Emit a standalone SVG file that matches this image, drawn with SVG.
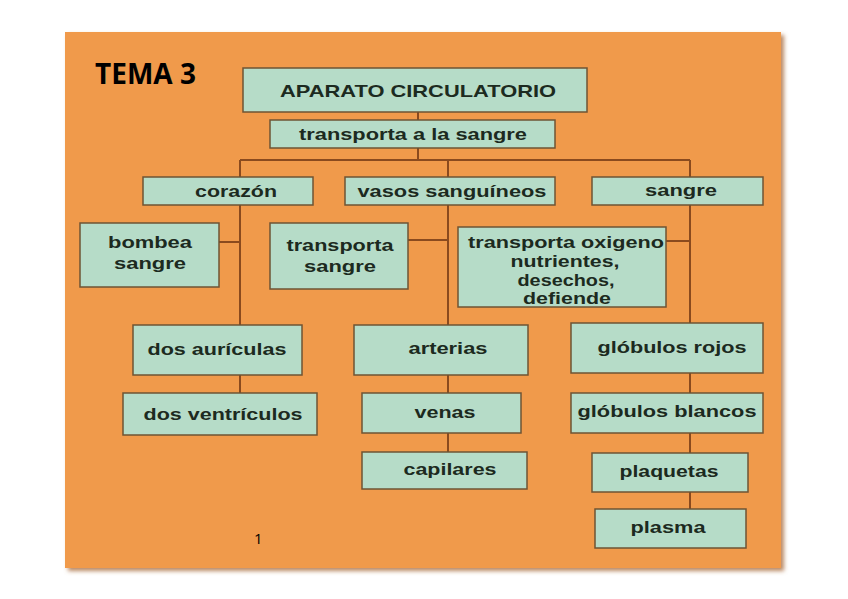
<svg xmlns="http://www.w3.org/2000/svg" width="848" height="599" viewBox="0 0 848 599">
<style>
.box{fill:#b6dcc8;stroke:#6e5434;stroke-width:1.5}
.t{font-family:"Liberation Sans",Arial,sans-serif;font-weight:bold;font-size:17px;fill:#1c2a20;text-anchor:middle}
.ln{stroke:#8a4a1e;stroke-width:2;fill:none}
</style>
<defs>
<filter id="sh" x="-5%" y="-5%" width="110%" height="110%">
<feDropShadow dx="3" dy="3" stdDeviation="2" flood-color="#a86a3a" flood-opacity="0.8"/>
</filter>
</defs>
<rect width="848" height="599" fill="#ffffff"/>
<rect x="65" y="32" width="716" height="536" fill="#f09a4b" filter="url(#sh)"/>
<text x="95" y="84" font-family="'Open Sans','Liberation Sans',sans-serif" font-weight="bold" font-size="28" fill="#000">TEMA 3</text>
<text x="254" y="544" font-family="'Open Sans','Liberation Sans',sans-serif" font-size="15" fill="#000">1</text>
<g id="connectors">
<path class="ln" d="M418 112V120M418 148V160M240 160H690M240 160V393M448 160V452M690 160V509M219 242H240M408 240H448M666 241H690"/>
</g>
<g id="n-aparato"><rect class="box" x="243" y="68" width="344" height="44"/><text class="t" x="418" y="97" font-size="19" textLength="276" lengthAdjust="spacingAndGlyphs">APARATO CIRCULATORIO</text></g>
<g id="n-transporta"><rect class="box" x="270" y="120" width="285" height="28"/><text class="t" x="413" y="140" textLength="228" lengthAdjust="spacingAndGlyphs">transporta a la sangre</text></g>
<g id="n-corazon"><rect class="box" x="143" y="177" width="170" height="28"/><text class="t" x="236" y="197" textLength="82" lengthAdjust="spacingAndGlyphs">corazón</text></g>
<g id="n-vasos"><rect class="box" x="345" y="177" width="210" height="28"/><text class="t" x="452" y="197" textLength="189" lengthAdjust="spacingAndGlyphs">vasos sanguíneos</text></g>
<g id="n-sangre"><rect class="box" x="592" y="177" width="171" height="28"/><text class="t" x="681" y="196" textLength="72" lengthAdjust="spacingAndGlyphs">sangre</text></g>
<g id="n-bombea"><rect class="box" x="80" y="223" width="139" height="64"/><text class="t" x="150" y="248" textLength="84" lengthAdjust="spacingAndGlyphs">bombea</text><text class="t" x="150" y="269" textLength="72" lengthAdjust="spacingAndGlyphs">sangre</text></g>
<g id="n-transp-sangre"><rect class="box" x="270" y="223" width="138" height="66"/><text class="t" x="340" y="251" textLength="107" lengthAdjust="spacingAndGlyphs">transporta</text><text class="t" x="340" y="272" textLength="72" lengthAdjust="spacingAndGlyphs">sangre</text></g>
<g id="n-transp-ox"><rect class="box" x="458" y="227" width="208" height="80"/><text class="t" x="566" y="248" font-size="16.5" textLength="196" lengthAdjust="spacingAndGlyphs">transporta oxigeno</text><text class="t" x="565" y="267" font-size="16.5" textLength="109" lengthAdjust="spacingAndGlyphs">nutrientes,</text><text class="t" x="566" y="286" font-size="16.5" textLength="97" lengthAdjust="spacingAndGlyphs">desechos,</text><text class="t" x="567" y="304" font-size="16.5" textLength="88" lengthAdjust="spacingAndGlyphs">defiende</text></g>
<g id="n-auriculas"><rect class="box" x="133" y="325" width="169" height="50"/><text class="t" x="217" y="355" textLength="139" lengthAdjust="spacingAndGlyphs">dos aurículas</text></g>
<g id="n-ventriculos"><rect class="box" x="123" y="393" width="194" height="42"/><text class="t" x="223" y="420" textLength="159" lengthAdjust="spacingAndGlyphs">dos ventrículos</text></g>
<g id="n-arterias"><rect class="box" x="354" y="325" width="174" height="50"/><text class="t" x="448" y="354" textLength="79" lengthAdjust="spacingAndGlyphs">arterias</text></g>
<g id="n-venas"><rect class="box" x="362" y="393" width="159" height="40"/><text class="t" x="445" y="418" textLength="61" lengthAdjust="spacingAndGlyphs">venas</text></g>
<g id="n-capilares"><rect class="box" x="362" y="452" width="165" height="37"/><text class="t" x="450" y="475" textLength="93" lengthAdjust="spacingAndGlyphs">capilares</text></g>
<g id="n-rojos"><rect class="box" x="571" y="323" width="192" height="50"/><text class="t" x="672" y="353" textLength="149" lengthAdjust="spacingAndGlyphs">glóbulos rojos</text></g>
<g id="n-blancos"><rect class="box" x="571" y="393" width="192" height="40"/><text class="t" x="667" y="417" textLength="179" lengthAdjust="spacingAndGlyphs">glóbulos blancos</text></g>
<g id="n-plaquetas"><rect class="box" x="592" y="453" width="156" height="39"/><text class="t" x="669" y="477" textLength="99" lengthAdjust="spacingAndGlyphs">plaquetas</text></g>
<g id="n-plasma"><rect class="box" x="595" y="509" width="151" height="39"/><text class="t" x="668" y="533" textLength="75" lengthAdjust="spacingAndGlyphs">plasma</text></g>
</svg>
